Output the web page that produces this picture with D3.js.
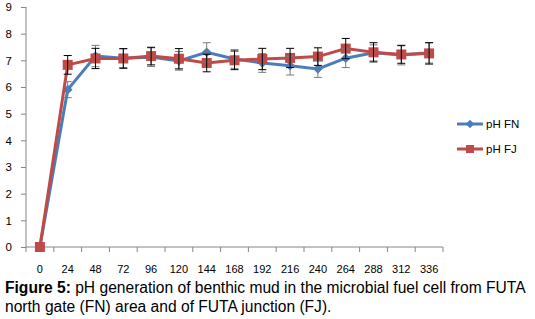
<!DOCTYPE html>
<html>
<head>
<meta charset="utf-8">
<script src="https://cdn.jsdelivr.net/npm/d3@7"></script>
<style>
  body { margin: 0; background: #fff; }
  svg { display: block; }
</style>
</head>
<body>
<div id="chart"></div>
<script>
// hours
const hours = ["0", "24", "48", "72", "96", "120", "144", "168", "192", "216", "240", "264", "288", "312", "336"];
const phFN = [0, 5.9, 7.16, 7.08, 7.12, 6.98, 7.3, 7.05, 6.9, 6.8, 6.68, 7.08, 7.28, 7.2, 7.28];
const phFJ = [0, 6.83, 7.07, 7.07, 7.16, 7.06, 6.9, 7.0, 7.05, 7.09, 7.14, 7.44, 7.3, 7.22, 7.26];
const errFN = [0, 0.3, 0.4, 0.35, 0.35, 0.35, 0.36, 0.35, 0.35, 0.35, 0.32, 0.35, 0.3, 0.37, 0.38];
const errFJ = [0, 0.35, 0.38, 0.37, 0.33, 0.38, 0.33, 0.35, 0.4, 0.36, 0.33, 0.38, 0.36, 0.33, 0.4];
const yTicks = [0, 1, 2, 3, 4, 5, 6, 7, 8, 9];

const width = 535, height = 319;
const axisCol = "#868686";
const font = "Liberation Sans, Arial, sans-serif";

const svg = d3.select("#chart").append("svg")
	.attr("width", width)
	.attr("height", height);

const x = d3.scaleBand().domain(hours).range([26, 443]);
const y = d3.scaleLinear().domain([0, 9]).range([247, 7]);

// y axis
const yAxis = svg.append("g")
	.attr("transform", "translate(26,0)")
	.call(d3.axisLeft(y).tickValues(yTicks).tickSize(5).tickPadding(9));
yAxis.select(".domain").attr("stroke", axisCol).attr("d", "M0,7V247");
yAxis.selectAll(".tick line").attr("stroke", axisCol);
yAxis.selectAll(".tick text").attr("font-family", font).attr("font-size", 11.5).attr("fill", "#000");

// x axis, ticks between categories
const xAxis = svg.append("g").attr("transform", "translate(0,247)");
xAxis.append("line")
	.attr("x1", 26).attr("x2", 443)
	.attr("stroke", axisCol);
xAxis.selectAll(".tk")
	.data(hours.concat(["end"]))
	.join("line")
	.attr("class", "tk")
	.attr("x1", (d, i) => i < hours.length ? x(d) : x.range()[1])
	.attr("x2", (d, i) => i < hours.length ? x(d) : x.range()[1])
	.attr("y1", 0).attr("y2", 5)
	.attr("stroke", axisCol);
xAxis.selectAll("text")
	.data(hours)
	.join("text")
	.attr("x", d => x(d) + x.bandwidth() / 2)
	.attr("y", 26)
	.attr("text-anchor", "middle")
	.attr("font-family", font)
	.attr("font-size", 11)
	.text(d => d);

const cx = d => x(d) + x.bandwidth() / 2;

const series = [
	{ name: "pH FN", vals: phFN, err: errFN, color: "#4a7ebb", errColor: "#7a7a7a", shape: "diamond" },
	{ name: "pH FJ", vals: phFJ, err: errFJ, color: "#be4b48", errColor: "#000", shape: "square" }
];

const line = d3.line().x((d, i) => cx(hours[i])).y(d => y(d));

series.forEach(s => {
	const g = svg.append("g");
	g.append("path")
		.datum(s.vals)
		.attr("fill", "none")
		.attr("stroke", s.color)
		.attr("stroke-width", 3)
		.attr("d", line);

	const sym = s.shape === "square"
		? d3.symbol(d3.symbolSquare, 100)
		: d3.symbol(d3.symbolDiamond2, 60);
	g.selectAll("path.mk")
		.data(s.vals)
		.join("path")
		.attr("class", "mk")
		.attr("transform", (d, i) => `translate(${cx(hours[i])},${y(d)})`)
		.attr("fill", s.color)
		.attr("d", sym);
});

// error bars on top
series.forEach(s => {
	const g = svg.append("g").attr("stroke", s.errColor).attr("stroke-width", 1);
	s.vals.forEach((v, i) => {
		if (!s.err[i]) return;
		const xc = cx(hours[i]);
		const y1 = y(v + s.err[i]), y2 = y(v - s.err[i]);
		g.append("line").attr("x1", xc).attr("x2", xc).attr("y1", y1).attr("y2", y2);
		g.append("line").attr("x1", xc - 4).attr("x2", xc + 4).attr("y1", y1).attr("y2", y1);
		g.append("line").attr("x1", xc - 4).attr("x2", xc + 4).attr("y1", y2).attr("y2", y2);
	});
});

// legend
const legend = svg.append("g");
series.forEach((s, i) => {
	const ly = 124 + i * 25;
	legend.append("line")
		.attr("x1", 457).attr("x2", 483)
		.attr("y1", ly).attr("y2", ly)
		.attr("stroke", s.color).attr("stroke-width", 3);
	legend.append("path")
		.attr("transform", `translate(470,${ly})`)
		.attr("fill", s.color)
		.attr("d", s.shape === "square" ? d3.symbol(d3.symbolSquare, 64)() : d3.symbol(d3.symbolDiamond2, 45)());
	legend.append("text")
		.attr("x", 486).attr("y", ly + 4)
		.attr("font-family", font)
		.attr("font-size", 11.5)
		.text(s.name);
});

// caption
const cap = svg.append("g").attr("font-family", font).attr("font-size", 15.6);
const t1 = cap.append("text").attr("x", 5).attr("y", 293);
t1.append("tspan").attr("font-weight", "bold").text("Figure 5:");
t1.append("tspan").text(" pH generation of benthic mud in the microbial fuel cell from FUTA");
cap.append("text").attr("x", 5).attr("y", 312)
	.text("north gate (FN) area and of FUTA junction (FJ).");
</script>
</body>
</html>
